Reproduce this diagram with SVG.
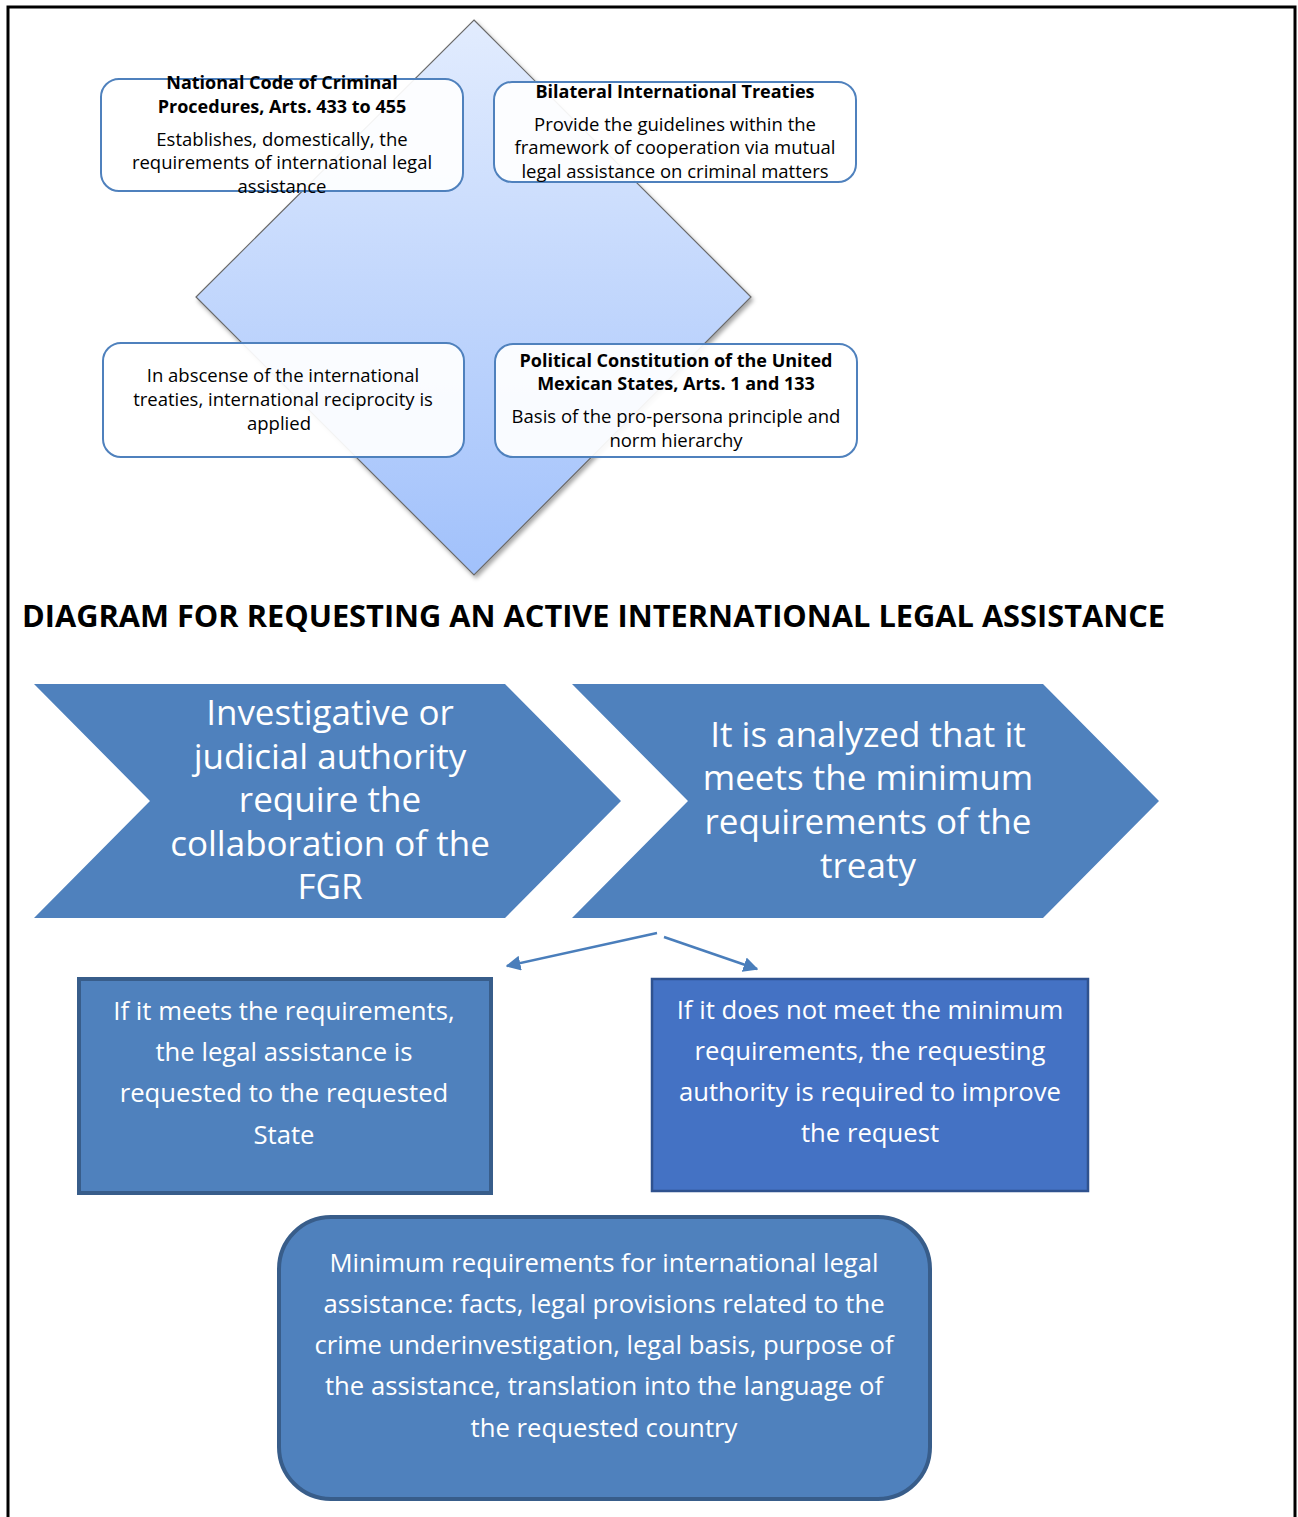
<svg xmlns="http://www.w3.org/2000/svg" width="1298" height="1517" viewBox="0 0 1298 1517">
<style>
  text { font-family: "Open Sans", Lato, "Liberation Sans", sans-serif; text-anchor: middle; }
  .sm { font-size: 18.5px; fill: #000; }
  .smb { font-size: 18px; font-weight: bold; fill: #000; }
  .big { font-size: 35px; fill: #fff; }
  .mid { font-size: 25.7px; fill: #fff; }
  .title { font-size: 31px; font-weight: bold; fill: #000; text-anchor: start; }
  .tb { fill: #fff; fill-opacity: 0.92; stroke: #4f81bd; stroke-width: 2; }
  .chev { fill: #4f81bd; }
  .conn { stroke: #4a7ebb; stroke-width: 2.5; fill: none; marker-end: url(#ah); }
  .frame { stroke: #000; stroke-width: 3; fill: none; }
</style>
<defs>
  <linearGradient id="dg" x1="0" y1="0" x2="0" y2="1">
    <stop offset="0" stop-color="#e2ecfe"/>
    <stop offset="1" stop-color="#a1c1fb"/>
  </linearGradient>
  <filter id="sh" x="-10%" y="-10%" width="120%" height="120%">
    <feDropShadow dx="2" dy="3" stdDeviation="2" flood-color="#000" flood-opacity="0.35"/>
  </filter>
  <marker id="ah" viewBox="0 0 10 10" refX="9" refY="5" markerWidth="6" markerHeight="6" markerUnits="strokeWidth" orient="auto">
    <path d="M0,0 L10,5 L0,10 z" fill="#4a7ebb"/>
  </marker>
</defs>
<rect width="1298" height="1517" fill="#fff"/>
<path class="frame" d="M8,1517 V7 H1295 V1517"/>

<g id="diamond">
  <polygon points="474,20 751,297 474,575 196,297" fill="url(#dg)" stroke="#6a6a6a" stroke-width="1.2" filter="url(#sh)"/>
</g>

<g id="box-code">
  <rect class="tb" x="101" y="79" width="362" height="112" rx="18"/>
  <text class="smb" x="282" y="89">National Code of Criminal</text>
  <text class="smb" x="282" y="113">Procedures, Arts. 433 to 455</text>
  <text class="sm" x="282" y="146">Establishes, domestically, the</text>
  <text class="sm" x="282" y="169">requirements of international legal</text>
  <text class="sm" x="282" y="193">assistance</text>
</g>

<g id="box-treaties">
  <rect class="tb" x="494" y="82" width="362" height="100" rx="18"/>
  <text class="smb" x="675" y="98">Bilateral International Treaties</text>
  <text class="sm" x="675" y="131">Provide the guidelines within the</text>
  <text class="sm" x="675" y="154">framework of cooperation via mutual</text>
  <text class="sm" x="675" y="178">legal assistance on criminal matters</text>
</g>

<g id="box-reciprocity">
  <rect class="tb" x="103" y="343" width="361" height="114" rx="18"/>
  <text class="sm" x="283" y="382">In abscense of the international</text>
  <text class="sm" x="283" y="406">treaties, international reciprocity is</text>
  <text class="sm" x="279" y="430">applied</text>
</g>

<g id="box-constitution">
  <rect class="tb" x="495" y="344" width="362" height="113" rx="18"/>
  <text class="smb" x="676" y="367">Political Constitution of the United</text>
  <text class="smb" x="676" y="390">Mexican States, Arts. 1 and 133</text>
  <text class="sm" x="676" y="423">Basis of the pro-persona principle and</text>
  <text class="sm" x="676" y="447">norm hierarchy</text>
</g>

<g id="title">
  <text class="title" x="22" y="627" textLength="1143" lengthAdjust="spacingAndGlyphs">DIAGRAM FOR REQUESTING AN ACTIVE INTERNATIONAL LEGAL ASSISTANCE</text>
</g>

<g id="chevron-1">
  <polygon class="chev" points="34,684 505,684 621,801 505,918 34,918 150,801"/>
  <text class="big" x="330" y="725">Investigative or</text>
  <text class="big" x="330" y="769">judicial authority</text>
  <text class="big" x="330" y="812">require the</text>
  <text class="big" x="330" y="856">collaboration of the</text>
  <text class="big" x="330" y="899">FGR</text>
</g>

<g id="chevron-2">
  <polygon class="chev" points="572,684 1043,684 1159,801 1043,918 572,918 688,801"/>
  <text class="big" x="868" y="747">It is analyzed that it</text>
  <text class="big" x="868" y="790">meets the minimum</text>
  <text class="big" x="868" y="834">requirements of the</text>
  <text class="big" x="868" y="878">treaty</text>
</g>

<g id="connectors">
  <line class="conn" x1="657" y1="933" x2="507" y2="966"/>
  <line class="conn" x1="664" y1="937" x2="757" y2="969"/>
</g>

<g id="box-meets">
  <rect x="79" y="979" width="412" height="214" fill="#4f81bd" stroke="#385d8a" stroke-width="4"/>
  <text class="mid" x="284" y="1020">If it meets the requirements,</text>
  <text class="mid" x="284" y="1061">the legal assistance is</text>
  <text class="mid" x="284" y="1102">requested to the requested</text>
  <text class="mid" x="284" y="1144">State</text>
</g>

<g id="box-not-meets">
  <rect x="652" y="979" width="436" height="212" fill="#4472c4" stroke="#2f528f" stroke-width="2.5"/>
  <text class="mid" x="870" y="1019">If it does not meet the minimum</text>
  <text class="mid" x="870" y="1060">requirements, the requesting</text>
  <text class="mid" x="870" y="1101">authority is required to improve</text>
  <text class="mid" x="870" y="1142">the request</text>
</g>

<g id="box-minimum">
  <rect x="279" y="1217" width="651" height="282" rx="52" fill="#4f81bd" stroke="#385d8a" stroke-width="4"/>
  <text class="mid" x="604" y="1272">Minimum requirements for international legal</text>
  <text class="mid" x="604" y="1313">assistance: facts, legal provisions related to the</text>
  <text class="mid" x="604" y="1354">crime underinvestigation, legal basis, purpose of</text>
  <text class="mid" x="604" y="1395">the assistance, translation into the language of</text>
  <text class="mid" x="604" y="1437">the requested country</text>
</g>
</svg>
